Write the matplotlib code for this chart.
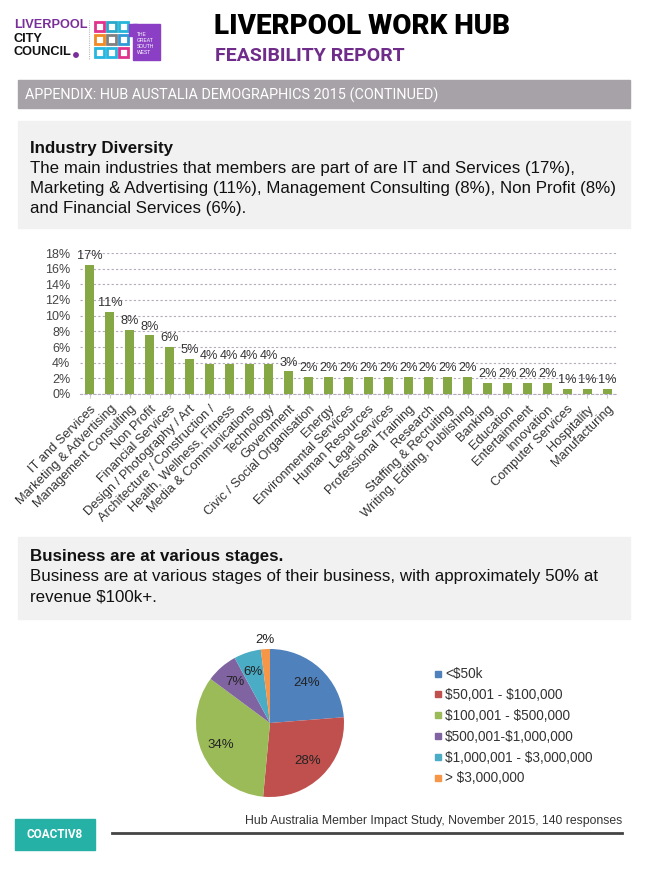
#!/usr/bin/env python3
"""
plot.py
Liverpool Work Hub feasibility report page: industry diversity bars + revenue stage pie
"""
import matplotlib
matplotlib.use("Agg")
import matplotlib.pyplot as plt
from matplotlib.patches import Rectangle
from matplotlib.lines import Line2D
from matplotlib.ticker import FuncFormatter, MultipleLocator
import numpy as np

W, H = 652, 869

# ---- data -------------------------------------------------------------
industries = [
    "IT and Services", "Marketing & Advertising", "Management Consulting",
    "Non Profit", "Financial Services", "Design / Photography / Art",
    "Architecture / Construction /", "Health, Wellness, Fitness",
    "Media & Communications", "Technology", "Government",
    "Civic / Social Organisation", "Energy", "Environmental Services",
    "Human Resources", "Legal Services", "Professional Training", "Research",
    "Staffing & Recruiting", "Writing, Editing, Publishing", "Banking",
    "Education", "Entertainment", "Innovation", "Computer Services",
    "Hospitality", "Manufacturing",
]
industry_share = [16.5, 10.5, 8.2, 7.5, 6.0, 4.5, 3.8, 3.8, 3.8, 3.8, 2.9,
                  2.2, 2.2, 2.2, 2.2, 2.2, 2.2, 2.2, 2.2, 2.2,
                  1.4, 1.4, 1.4, 1.4, 0.7, 0.7, 0.7]
industry_labels = ["17%", "11%", "8%", "8%", "6%", "5%", "4%", "4%", "4%", "4%",
                   "3%"] + ["2%"] * 13 + ["1%"] * 3

stages = ["<$50k", "$50,001 - $100,000", "$100,001 - $500,000",
          "$500,001-$1,000,000", "$1,000,001 - $3,000,000", "> $3,000,000"]
stage_pct = [24, 28, 34, 7, 6, 2]
stage_colors = ["#4f81bd", "#c0504d", "#9bbb59", "#8064a2", "#4bacc6", "#f79646"]

SANS = ["Liberation Sans", "DejaVu Sans"]
HEAD = ["Roboto", "DejaVu Sans"]
plt.rcParams["font.family"] = SANS
plt.rcParams["text.parse_math"] = False   # dollar signs are literal


def box(x, y, w, h):
    # pixel box -> figure fraction rect
    return [x / W, 1 - (y + h) / H, w / W, h / H]


fig = plt.figure(figsize=(W / 100, H / 100), dpi=100)
fig.patch.set_facecolor("white")

# background layer in pixel coordinates
bg = fig.add_axes([0, 0, 1, 1])
bg.set_xlim(0, W)
bg.set_ylim(H, 0)
bg.axis("off")

# ---- header -----------------------------------------------------------
purple = "#6f2c8a"
bg.text(14, 25, "LIVERPOOL", color="#7a2e9a", fontsize=9.2, fontweight="bold",
        va="center")
bg.text(14, 39, "CITY", color="#111", fontsize=9.2, fontweight="bold", va="center")
bg.text(14, 52, "COUNCIL", color="#111", fontsize=9.2, fontweight="bold", va="center")
bg.add_patch(plt.Circle((76, 55), 2.2, color="#7a2e9a"))
bg.plot([89, 89], [20, 60], color="#bbb", lw=0.8, ls=(0, (1, 1)))

icon_cols = [["#e0338c", "#29a8c9", "#26b5d9"],
             ["#f08a24", "#808080", "#2f9ad6"],
             ["#27b6e0", "#27b6e0", "#e0338c"]]
for r in range(3):
    for c in range(3):
        bg.add_patch(Rectangle((95 + c * 12, 22 + r * 13), 9, 9,
                               facecolor="none", edgecolor=icon_cols[r][c], lw=2))
bg.add_patch(Rectangle((133, 24), 27, 36, color="#8a3fc4"))
bg.add_patch(Rectangle((129, 24), 8, 12, color="#8a3fc4"))
for i, w in enumerate(["THE", "GREAT", "SOUTH", "WEST"]):
    bg.text(137, 35 + i * 6, w, color="white", fontsize=3.6, va="center")

bg.text(214, 27, "LIVERPOOL WORK HUB", color="#000", fontsize=20,
        fontweight="black", family=HEAD, va="center")
bg.text(215, 56, "FEASIBILITY REPORT", color=purple, fontsize=14,
        fontweight="bold", family=HEAD, va="center")

bg.add_patch(Rectangle((18, 80), 612, 28, color="#a7a2a8"))
bg.text(25, 95, "APPENDIX: HUB AUSTALIA DEMOGRAPHICS 2015 (CONTINUED)",
        color="white", fontsize=10.4, family=HEAD, va="center")

# ---- text boxes -------------------------------------------------------
BODY = 12.2
bg.add_patch(Rectangle((18, 121), 612, 107, color="#f1f1f1"))
bg.text(30, 148, "Industry Diversity", fontsize=BODY, fontweight="bold",
        color="#111", va="center")
for i, line in enumerate([
        "The main industries that members are part of are IT and Services (17%),",
        "Marketing & Advertising (11%), Management Consulting (8%), Non Profit (8%)",
        "and Financial Services (6%)."]):
    bg.text(30, 168 + i * 20, line, fontsize=BODY, color="#111", va="center")

bg.add_patch(Rectangle((18, 537), 612, 82, color="#f1f1f1"))
bg.text(30, 556, "Business are at various stages.", fontsize=BODY,
        fontweight="bold", color="#111", va="center")
for i, line in enumerate([
        "Business are at various stages of their business, with approximately 50% at",
        "revenue $100k+."]):
    bg.text(30, 577 + i * 20, line, fontsize=BODY, color="#111", va="center")

# ---- bar chart --------------------------------------------------------
ax = fig.add_axes(box(80, 253, 537, 141))
x = np.arange(len(industries))
vals = np.array(industry_share) / 100
ax.bar(x, vals, width=0.45, color="#86a844", zorder=3)
ax.set_xlim(-0.5, len(industries) - 0.5)
ax.set_ylim(0, 0.18)
ax.yaxis.set_major_locator(MultipleLocator(0.02))
ax.yaxis.set_major_formatter(FuncFormatter(lambda v, p: f"{v * 100:.0f}%"))
ax.grid(axis="y", color="#b4a9bd", lw=0.8, ls=(0, (2, 2)), zorder=0)
for s in ["top", "right", "left"]:
    ax.spines[s].set_visible(False)
ax.spines["bottom"].set_color("#b4a9bd")
ax.spines["bottom"].set_linestyle((0, (2, 2)))
ax.tick_params(axis="y", length=0, labelsize=9, labelcolor="#444", pad=7)
ax.tick_params(axis="x", length=3, color="#ccc", labelsize=9.3, labelcolor="#333")
ax.set_xticks(x)
ax.set_xticklabels(industries, rotation=45, ha="right", rotation_mode="anchor")
for xi, v, lab in zip(x, vals, industry_labels):
    ax.text(xi, v + 0.011, lab, ha="center", va="center", fontsize=9.2,
            color="#333")
ax.set_facecolor("none")

# ---- pie chart --------------------------------------------------------
pax = fig.add_axes(box(196, 649, 148, 148))
wedges, _ = pax.pie(stage_pct, colors=stage_colors, startangle=90,
                    counterclock=False, radius=1)
pax.set_xlim(-1, 1)
pax.set_ylim(-1, 1)
for w, p in zip(wedges, stage_pct):
    ang = np.deg2rad((w.theta1 + w.theta2) / 2)
    r = 1.13 if p < 3 else 0.73
    pax.text(r * np.cos(ang), r * np.sin(ang), f"{p}%", ha="center",
             va="center", fontsize=9.5, color="#222")

handles = [Line2D([], [], marker="s", ls="none", markersize=4.5,
                  markerfacecolor=c, markeredgecolor=c) for c in stage_colors]
fig.legend(handles, stages, loc="upper left",
           bbox_to_anchor=(428 / W, 1 - 662 / H), frameon=False,
           fontsize=9.8, labelspacing=0.5, handlelength=0.6,
           handletextpad=0.25, labelcolor="#333", borderaxespad=0)

# ---- footer -----------------------------------------------------------
bg.add_patch(Rectangle((15, 819), 80, 31, color="#25b1a6"))
bg.text(55, 835, "COACTIV8", color="white", fontsize=8.5, fontweight="bold",
        family=HEAD, ha="center", va="center")
bg.plot([112, 622], [833, 833], color="#444", lw=2)
bg.text(622, 821, "Hub Australia Member Impact Study, November 2015, 140 responses",
        fontsize=8.8, color="#333", ha="right", va="center")

fig.savefig("out.png", dpi=100)
